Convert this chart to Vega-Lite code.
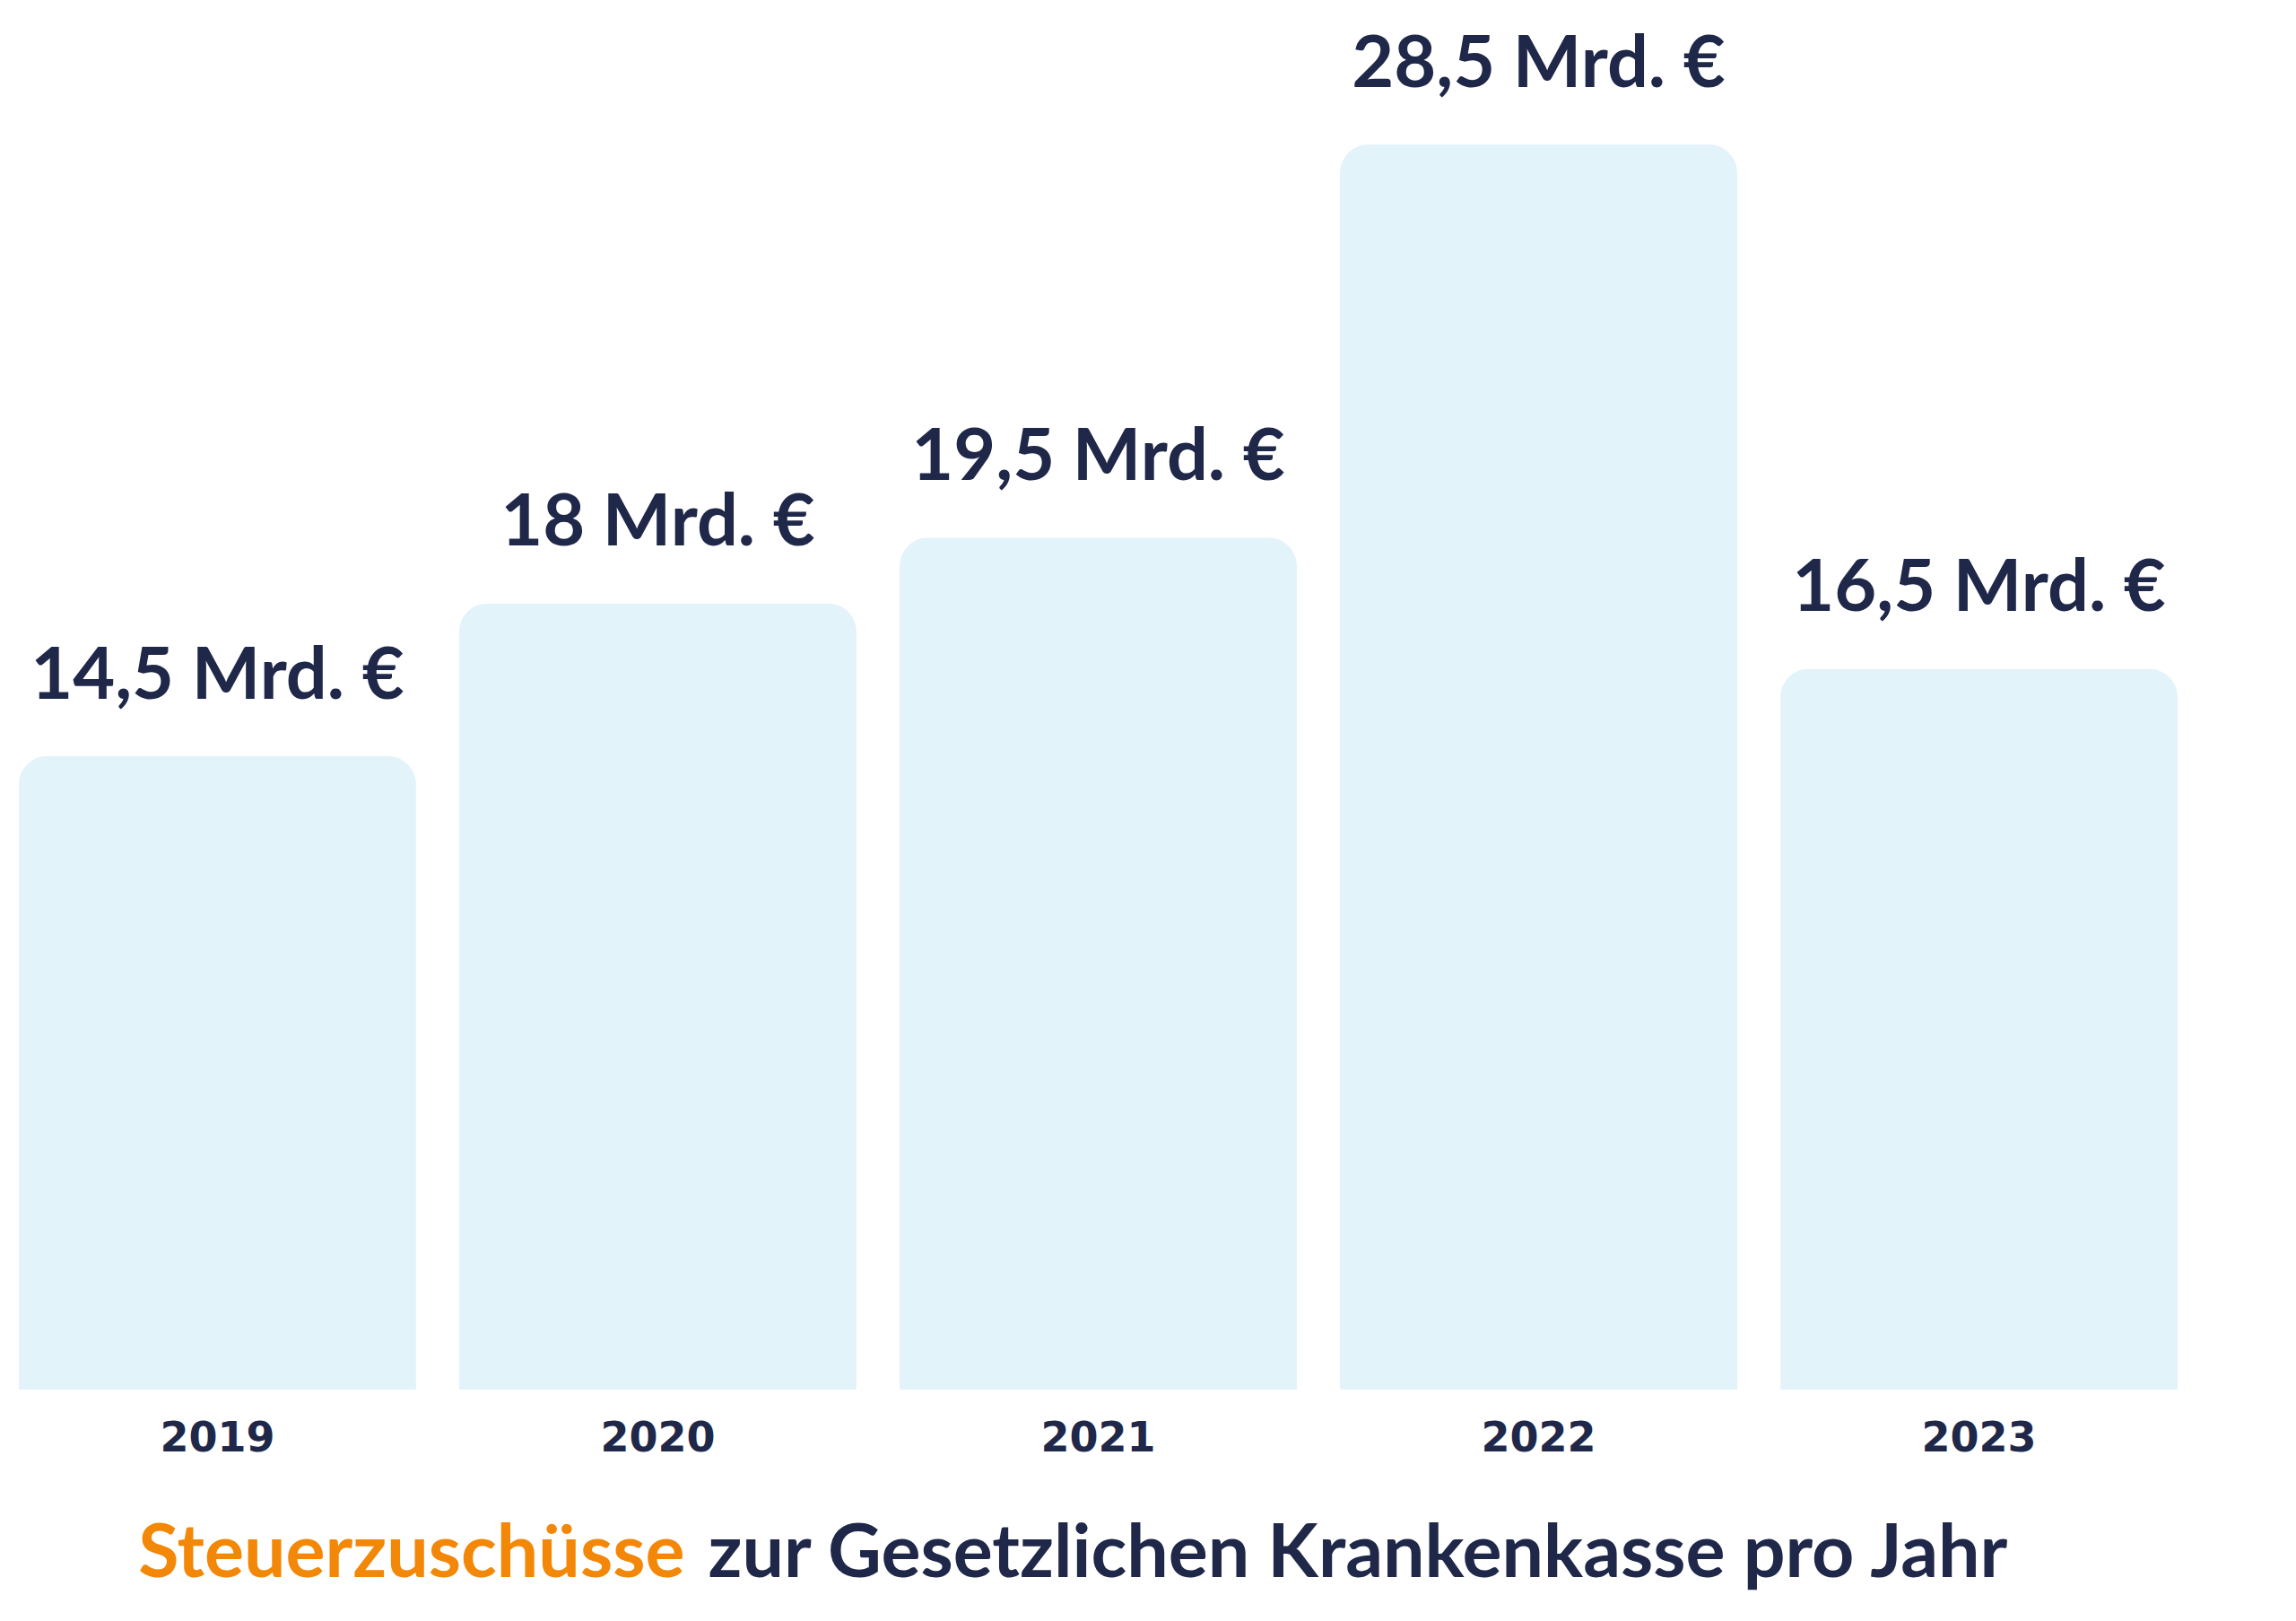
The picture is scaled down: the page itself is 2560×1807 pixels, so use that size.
{
  "$schema": "https://vega.github.io/schema/vega-lite/v6.json",
  "autosize": "none",
  "width": 2407,
  "height": 1461,
  "padding": {"left": 21, "top": 88, "right": 132, "bottom": 258},
  "background": "#ffffff",
  "config": {"view": {"stroke": null}, "font": "Lato"},
  "layer": [
    {
      "data": {"values": [
        {"year": "2019", "value": 14.5, "label": "14,5 Mrd. €"},
        {"year": "2020", "value": 18, "label": "18 Mrd. €"},
        {"year": "2021", "value": 19.5, "label": "19,5 Mrd. €"},
        {"year": "2022", "value": 28.5, "label": "28,5 Mrd. €"},
        {"year": "2023", "value": 16.5, "label": "16,5 Mrd. €"}
      ]},
      "layer": [
        {
          "mark": {"type": "bar", "color": "#E3F3FA", "cornerRadiusTopLeft": 32, "cornerRadiusTopRight": 32},
          "encoding": {
            "x": {"field": "year", "type": "ordinal", "sort": null,
              "scale": {"paddingInner": 0.098, "paddingOuter": 0},
              "axis": {"title": null, "domain": false, "ticks": false, "tickSize": 0,
                "labelFont": "DejaVu Sans", "labelFontSize": 46, "labelFontWeight": 700,
                "labelColor": "#20284A", "labelBaseline": "alphabetic", "labelPadding": 68, "labelAngle": 0}},
            "y": {"field": "value", "type": "quantitative",
              "scale": {"domain": [0, 30], "nice": false, "zero": true},
              "axis": null}
          }
        },
        {
          "mark": {"type": "text", "font": "Lato", "fontSize": 81, "fontWeight": 700, "color": "#20284A",
            "baseline": "alphabetic", "align": "center", "dy": -64},
          "encoding": {
            "x": {"field": "year", "type": "ordinal", "sort": null},
            "y": {"field": "value", "type": "quantitative"},
            "text": {"field": "label"}
          }
        }
      ]
    },
    {
      "data": {"values": [
        {"part": "Steuerzuschüsse", "kind": "accent"},
        {"part": "zur Gesetzlichen Krankenkasse pro Jahr", "kind": "main"}
      ]},
      "layer": [
        {
          "transform": [{"filter": "datum.kind === 'accent'"}],
          "mark": {"type": "text", "font": "Lato", "fontSize": 82.5, "fontWeight": 700, "color": "#F28708",
            "baseline": "alphabetic", "align": "right", "dx": 30, "dy": 209},
          "encoding": {
            "x": {"datum": "2020", "type": "ordinal"},
            "y": {"datum": 0, "type": "quantitative"},
            "text": {"field": "part"}
          }
        },
        {
          "transform": [{"filter": "datum.kind === 'main'"}],
          "mark": {"type": "text", "font": "Lato", "fontSize": 82.5, "fontWeight": 700, "color": "#20284A",
            "baseline": "alphabetic", "align": "left", "dx": 56, "dy": 209},
          "encoding": {
            "x": {"datum": "2020", "type": "ordinal"},
            "y": {"datum": 0, "type": "quantitative"},
            "text": {"field": "part"}
          }
        }
      ]
    }
  ]
}
